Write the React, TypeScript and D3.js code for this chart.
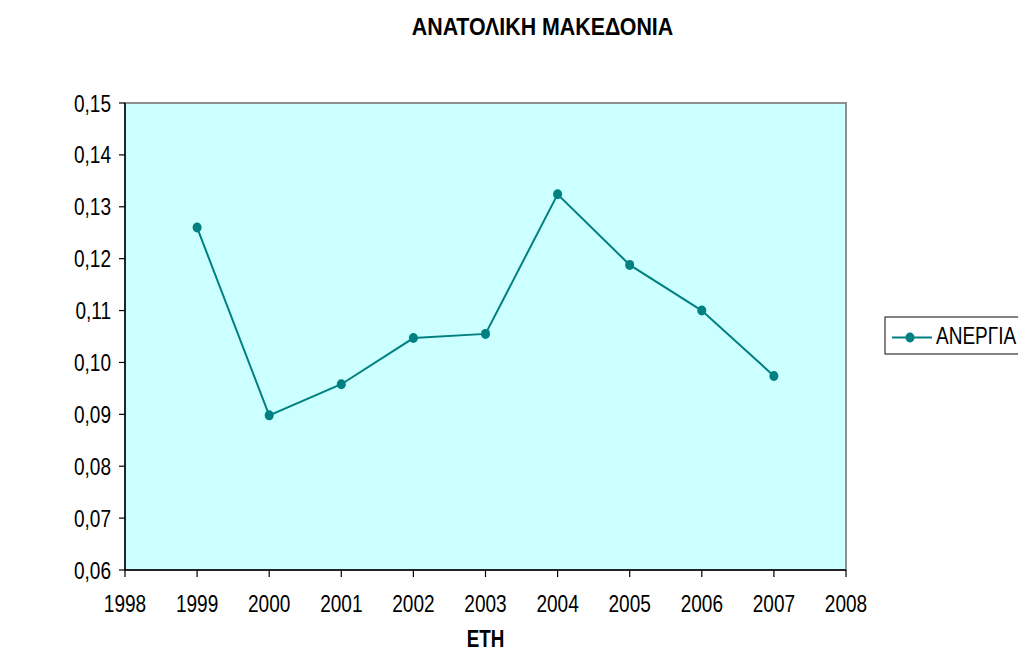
import * as d3 from 'd3'

const years = [1999, 2000, 2001, 2002, 2003, 2004, 2005, 2006, 2007]
const unemployment = [0.126, 0.0898, 0.0958, 0.1047, 0.1055, 0.1324, 0.1188, 0.11, 0.0974]
const yTicks = [0.06, 0.07, 0.08, 0.09, 0.1, 0.11, 0.12, 0.13, 0.14, 0.15]
const xTicks = [1998, 1999, 2000, 2001, 2002, 2003, 2004, 2005, 2006, 2007, 2008]
const seriesName = 'ΑΝΕΡΓΙΑ'
const title = 'ΑΝΑΤΟΛΙΚΗ ΜΑΚΕΔΟΝΙΑ'
const xTitle = 'ΕΤΗ'

const W = 1018
const H = 653
const plot = { left: 125, right: 846, top: 103, bottom: 570 }
const teal = '#008080'
const font = 'Liberation Sans, Arial, sans-serif'
const fs = 23.5

export default function App() {
  const x = d3.scaleLinear().domain([1998, 2008]).range([plot.left, plot.right])
  const y = d3.scaleLinear().domain([0.06, 0.15]).range([plot.bottom, plot.top])
  const fmt = (v: number) => d3.format('.2f')(v).replace('.', ',')

  const pts = years.map((yr, i) => [x(yr), y(unemployment[i])] as [number, number])
  const line = d3.line()(pts) || ''

  // excel-ish tall narrow text
  const label = (tx: number, ty: number, text: string, anchor: string, sx = 0.81, bold = false) => (
    <text
      transform={`translate(${tx},${ty}) scale(${sx},1)`}
      textAnchor={anchor}
      fontFamily={font}
      fontSize={fs}
      fontWeight={bold ? 'bold' : 'normal'}
      fill="#000"
    >
      {text}
    </text>
  )

  return (
    <svg width={W} height={H} style={{ position: 'absolute', left: 0, top: 0, background: '#fff' }}>
      {/* plot area */}
      <rect
        x={plot.left}
        y={plot.top}
        width={plot.right - plot.left}
        height={plot.bottom - plot.top}
        fill="#ccffff"
        stroke="#909090"
        strokeWidth={2}
      />
      <line x1={plot.left} x2={plot.left} y1={plot.top} y2={plot.bottom} stroke="#000" strokeWidth={1.5} />
      <line x1={plot.left} x2={plot.right} y1={plot.bottom} y2={plot.bottom} stroke="#000" strokeWidth={1.5} />

      {yTicks.map(t => (
        <g key={t}>
          <line x1={plot.left - 6} x2={plot.left} y1={y(t)} y2={y(t)} stroke="#000" strokeWidth={1.2} />
          {label(plot.left - 14, y(t) + 8.5, fmt(t), 'end')}
        </g>
      ))}

      {xTicks.map(t => (
        <g key={t}>
          <line x1={x(t)} x2={x(t)} y1={plot.bottom} y2={plot.bottom + 7} stroke="#000" strokeWidth={1.2} />
          {label(x(t), 611.5, String(t), 'middle')}
        </g>
      ))}

      <path d={line} fill="none" stroke={teal} strokeWidth={2} />
      {pts.map((p, i) => (
        <ellipse key={i} cx={p[0]} cy={p[1]} rx={4.5} ry={5} fill={teal} />
      ))}

      {label(542.5, 35, title, 'middle', 0.91, true)}
      {label(485.5, 647, xTitle, 'middle', 0.8, true)}

      {/* legend */}
      <rect x={885} y={317} width={150} height={37} fill="#fff" stroke="#333" strokeWidth={1.2} />
      <line x1={892} x2={932} y1={337.5} y2={337.5} stroke={teal} strokeWidth={2} />
      <ellipse cx={910} cy={337.5} rx={4.5} ry={5} fill={teal} />
      {label(936, 344, seriesName, 'start')}
    </svg>
  )
}
